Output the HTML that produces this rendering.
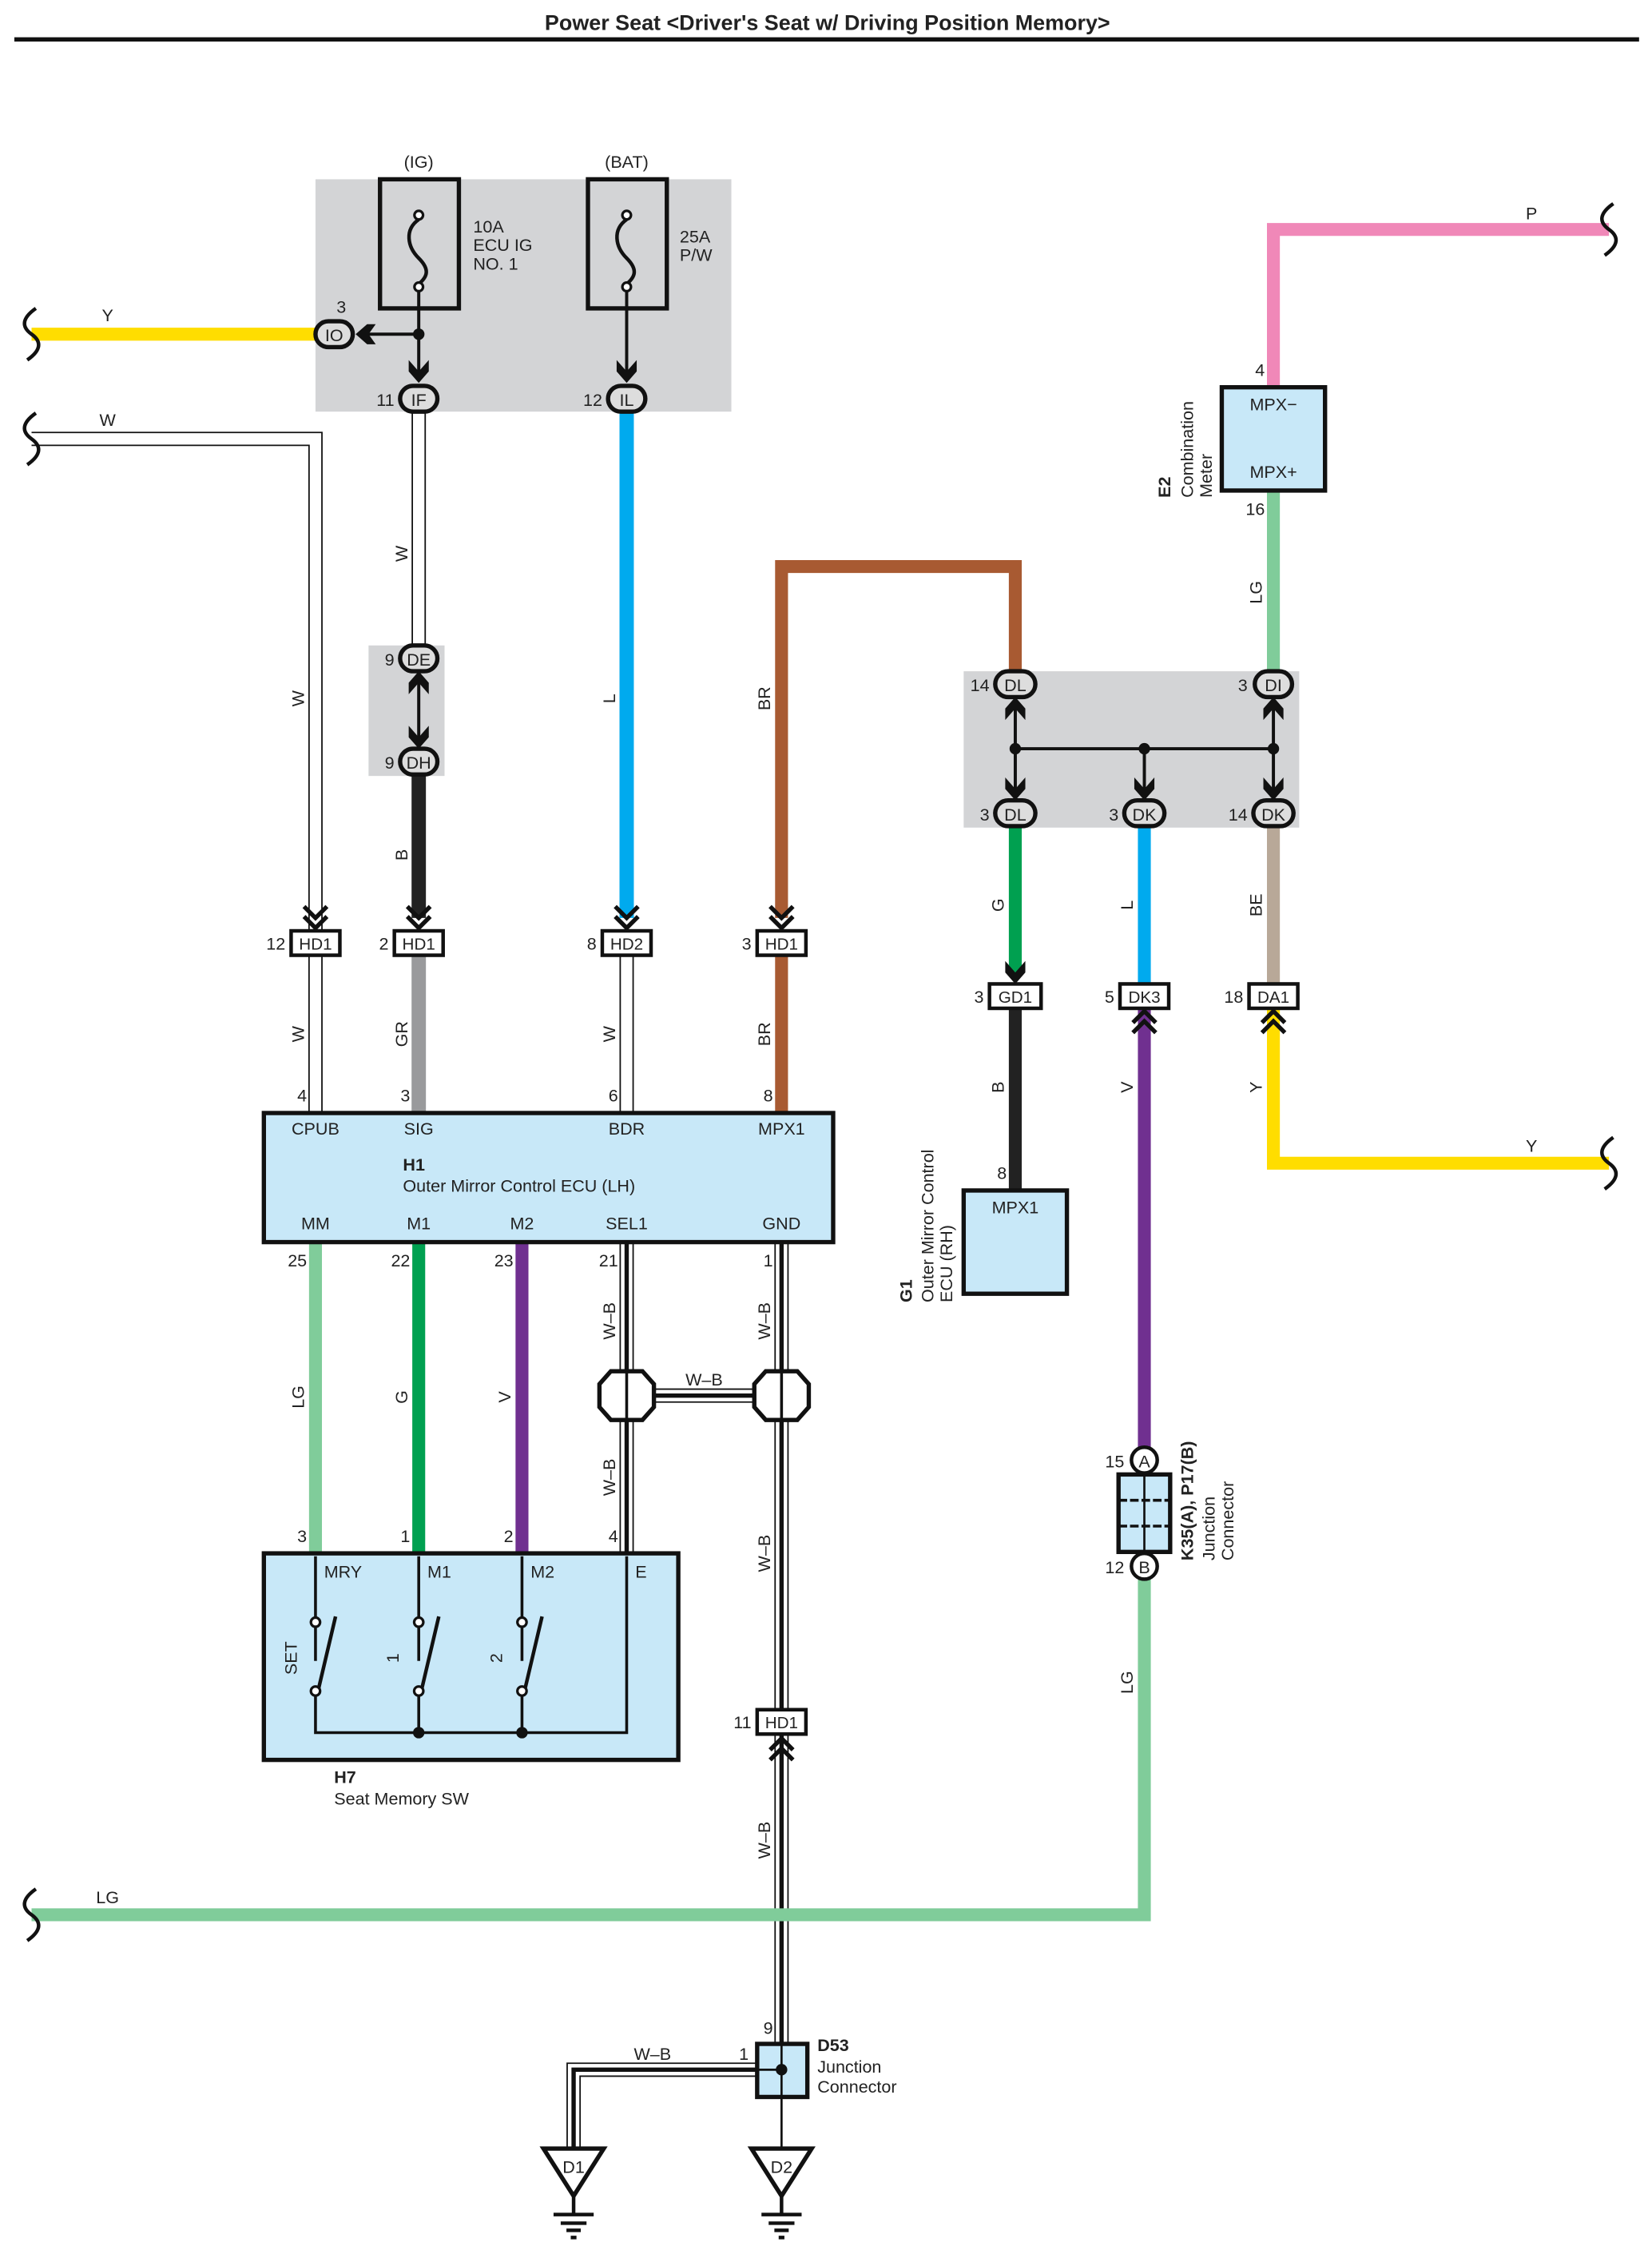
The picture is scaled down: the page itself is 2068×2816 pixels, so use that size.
<!DOCTYPE html>
<html><head><meta charset="utf-8"><style>
html,body{margin:0;padding:0;background:#fff;}
svg{display:block;}
text{font-family:"Liberation Sans",sans-serif;fill:#222;}
</style></head><body>
<svg width="2068" height="2816" viewBox="0 0 1152 1568.7" xmlns="http://www.w3.org/2000/svg">
<defs>
<g id="chd"><path d="M-8,-16 L0,-8 L8,-16 M-8,-9 L0,-1 L8,-9" stroke="#111" stroke-width="3" fill="none"/></g>
<g id="chu"><path d="M-8,16 L0,8 L8,16 M-8,9 L0,1 L8,9" stroke="#111" stroke-width="3" fill="none"/></g>
<g id="ard"><path d="M-7,-14 L0,-6 L7,-14 L7,-6 L0,2 L-7,-6 Z" fill="#111"/></g>
<g id="aru"><path d="M-7,14 L0,6 L7,14 L7,6 L0,-2 L-7,6 Z" fill="#111"/></g>
</defs>
<!-- title -->
<text x="577" y="21" font-size="15" font-weight="bold" text-anchor="middle">Power Seat &lt;Driver's Seat w/ Driving Position Memory&gt;</text>
<line x1="10" y1="27.5" x2="1143" y2="27.5" stroke="#111" stroke-width="3"/>

<!-- gray boxes -->
<rect x="220" y="125" width="290" height="162" fill="#d3d4d6"/>
<rect x="257" y="450" width="53" height="91" fill="#d3d4d6"/>
<rect x="672" y="468" width="234" height="109" fill="#d3d4d6"/>

<!-- fuses -->
<text x="292" y="117" font-size="12" text-anchor="middle">(IG)</text>
<text x="437" y="117" font-size="12" text-anchor="middle">(BAT)</text>
<rect x="265" y="125" width="55" height="90" fill="none" stroke="#111" stroke-width="3"/>
<rect x="410" y="125" width="55" height="90" fill="none" stroke="#111" stroke-width="3"/>
<path d="M292,153 C282,160 284,172 292,180 C300,188 298,193 292,198" stroke="#111" stroke-width="2.5" fill="none"/>
<path d="M437,153 C427,160 429,172 437,180 C445,188 443,193 437,198" stroke="#111" stroke-width="2.5" fill="none"/>
<circle cx="292" cy="150" r="3" fill="#fff" stroke="#111" stroke-width="1.8"/>
<circle cx="292" cy="200" r="3" fill="#fff" stroke="#111" stroke-width="1.8"/>
<circle cx="437" cy="150" r="3" fill="#fff" stroke="#111" stroke-width="1.8"/>
<circle cx="437" cy="200" r="3" fill="#fff" stroke="#111" stroke-width="1.8"/>
<text x="330" y="162" font-size="12">10A</text>
<text x="330" y="175" font-size="12">ECU IG</text>
<text x="330" y="188" font-size="12">NO. 1</text>
<text x="474" y="169" font-size="12">25A</text>
<text x="474" y="182" font-size="12">P/W</text>
<line x1="292" y1="203" x2="292" y2="265" stroke="#111" stroke-width="2.2"/>
<line x1="437" y1="203" x2="437" y2="265" stroke="#111" stroke-width="2.2"/>
<line x1="252" y1="233" x2="292" y2="233" stroke="#111" stroke-width="2.2"/>
<circle cx="292" cy="233" r="4" fill="#111"/>
<path d="M248,233 L256,226 L262,226 L257,233 L262,240 L256,240 Z" fill="#111"/>
<use href="#ard" x="292" y="265"/>
<use href="#ard" x="437" y="265"/>

<!-- wires -->
<!-- yellow left -->
<line x1="22" y1="233" x2="222" y2="233" stroke="#ffdd00" stroke-width="9"/>
<text x="75" y="224" font-size="12" text-anchor="middle">Y</text>
<!-- W left -->
<path d="M22,306 L220,306 L220,650" stroke="#111" stroke-width="10" fill="none"/>
<path d="M22,306 L220,306 L220,650" stroke="#fff" stroke-width="8" fill="none"/>
<text x="75" y="297" font-size="12" text-anchor="middle">W</text>
<!-- W IF-DE -->
<line x1="292" y1="287" x2="292" y2="452" stroke="#111" stroke-width="10"/>
<line x1="292" y1="287" x2="292" y2="452" stroke="#fff" stroke-width="8"/>
<!-- B DH-HD1 -->
<line x1="292" y1="540" x2="292" y2="640" stroke="#222" stroke-width="10"/>
<!-- L -->
<line x1="437" y1="287" x2="437" y2="640" stroke="#00aaee" stroke-width="10"/>
<!-- BR -->
<path d="M545,640 L545,395 L708,395 L708,468" stroke="#a85a32" stroke-width="9" fill="none"/>
<!-- lower HD -> H1 -->
<line x1="220" y1="666" x2="220" y2="776" stroke="#111" stroke-width="10"/>
<line x1="220" y1="666" x2="220" y2="776" stroke="#fff" stroke-width="8"/>
<line x1="292" y1="666" x2="292" y2="776" stroke="#999a9c" stroke-width="10"/>
<line x1="437" y1="666" x2="437" y2="776" stroke="#111" stroke-width="10"/>
<line x1="437" y1="666" x2="437" y2="776" stroke="#fff" stroke-width="8"/>
<line x1="545" y1="666" x2="545" y2="776" stroke="#a85a32" stroke-width="9"/>
<!-- H1 -> H7 -->
<line x1="220" y1="866" x2="220" y2="1083" stroke="#80cc9a" stroke-width="9"/>
<line x1="292" y1="866" x2="292" y2="1083" stroke="#00a050" stroke-width="9"/>
<line x1="364" y1="866" x2="364" y2="1083" stroke="#703090" stroke-width="9"/>
<!-- W-B wires -->
<g fill="none">
<path d="M437,866 L437,1083" stroke="#111" stroke-width="10"/>
<path d="M437,866 L437,1083" stroke="#fff" stroke-width="8"/>
<path d="M437,866 L437,1083" stroke="#111" stroke-width="3"/>
<path d="M545,866 L545,1443" stroke="#111" stroke-width="10"/>
<path d="M545,866 L545,1443" stroke="#fff" stroke-width="8"/>
<path d="M545,866 L545,1443" stroke="#111" stroke-width="3"/>
<path d="M437,973 L545,973" stroke="#111" stroke-width="10"/>
<path d="M437,973 L545,973" stroke="#fff" stroke-width="8"/>
<path d="M437,973 L545,973" stroke="#111" stroke-width="3"/>
<path d="M528,1443 L400,1443 L400,1497" stroke="#111" stroke-width="10"/>
<path d="M528,1443 L400,1443 L400,1497" stroke="#fff" stroke-width="8"/>
<path d="M528,1443 L400,1443 L400,1497" stroke="#111" stroke-width="3"/>
</g>
<!-- LG bottom -->
<path d="M22,1335 L798,1335 L798,1100" stroke="#80cc9a" stroke-width="9" fill="none"/>
<text x="75" y="1327" font-size="12" text-anchor="middle">LG</text>
<!-- V purple -->
<line x1="798" y1="702" x2="798" y2="1010" stroke="#703090" stroke-width="9"/>
<!-- right side -->
<path d="M1122,160 L888,160 L888,270" stroke="#f088b8" stroke-width="9" fill="none"/>
<text x="1068" y="153" font-size="12" text-anchor="middle">P</text>
<line x1="888" y1="342" x2="888" y2="468" stroke="#80cc9a" stroke-width="9"/>
<line x1="708" y1="577" x2="708" y2="680" stroke="#00a050" stroke-width="9"/>
<line x1="708" y1="702" x2="708" y2="830" stroke="#222" stroke-width="9"/>
<line x1="798" y1="577" x2="798" y2="686" stroke="#00aaee" stroke-width="9"/>
<line x1="888" y1="577" x2="888" y2="686" stroke="#b8a898" stroke-width="9"/>
<path d="M888,702 L888,811 L1122,811" stroke="#ffdd00" stroke-width="9" fill="none"/>
<text x="1068" y="803" font-size="12" text-anchor="middle">Y</text>

<!-- breaks -->
<g stroke="#111" stroke-width="2.5" fill="none">
<path d="M25,215 C15,222 15,228 22,233 C29,238 29,244 19,251"/>
<path d="M25,288 C15,295 15,301 22,306 C29,311 29,317 19,324"/>
<path d="M25,1317 C15,1324 15,1330 22,1335 C29,1340 29,1346 19,1353"/>
<path d="M1125,142 C1115,149 1115,155 1122,160 C1129,165 1129,171 1119,178"/>
<path d="M1125,793 C1115,800 1115,806 1122,811 C1129,816 1129,822 1119,829"/>
</g>

<!-- ovals -->
<g stroke="#111" stroke-width="3" fill="#ddd">
<rect x="220" y="224" width="26" height="18" rx="9"/>
<rect x="279" y="269" width="26" height="18" rx="9"/>
<rect x="424" y="269" width="26" height="18" rx="9"/>
<rect x="279" y="450" width="26" height="18" rx="9"/>
<rect x="279" y="522" width="26" height="18" rx="9"/>
<rect x="694" y="468" width="28" height="18" rx="9"/>
<rect x="875" y="468" width="26" height="18" rx="9"/>
<rect x="694" y="558" width="28" height="18" rx="9"/>
<rect x="784" y="558" width="28" height="18" rx="9"/>
<rect x="874" y="558" width="28" height="18" rx="9"/>
</g>
<g font-size="12" text-anchor="middle">
<text x="233" y="238">IO</text><text x="292" y="283">IF</text><text x="437" y="283">IL</text>
<text x="292" y="464">DE</text><text x="292" y="536">DH</text>
<text x="708" y="482">DL</text><text x="888" y="482">DI</text>
<text x="708" y="572">DL</text><text x="798" y="572">DK</text><text x="888" y="572">DK</text>
</g>
<g font-size="12" text-anchor="end">
<text x="238" y="218" text-anchor="middle">3</text>
<text x="275" y="283">11</text><text x="420" y="283">12</text>
<text x="275" y="464">9</text><text x="275" y="536">9</text>
<text x="690" y="482">14</text><text x="870" y="482">3</text>
<text x="690" y="572">3</text><text x="780" y="572">3</text><text x="870" y="572">14</text>
</g>
<!-- DE/DH arrows -->
<line x1="292" y1="468" x2="292" y2="522" stroke="#111" stroke-width="2.2"/>
<use href="#aru" x="292" y="470"/><use href="#ard" x="292" y="520"/>
<!-- right junction -->
<line x1="708" y1="486" x2="708" y2="558" stroke="#111" stroke-width="2.2"/>
<line x1="888" y1="486" x2="888" y2="558" stroke="#111" stroke-width="2.2"/>
<line x1="708" y1="522" x2="888" y2="522" stroke="#111" stroke-width="2.2"/>
<line x1="798" y1="522" x2="798" y2="558" stroke="#111" stroke-width="2.2"/>
<circle cx="708" cy="522" r="4" fill="#111"/><circle cx="798" cy="522" r="4" fill="#111"/><circle cx="888" cy="522" r="4" fill="#111"/>
<use href="#aru" x="708" y="488"/><use href="#aru" x="888" y="488"/>
<use href="#ard" x="708" y="556"/><use href="#ard" x="798" y="556"/><use href="#ard" x="888" y="556"/>

<!-- rect connectors -->
<g stroke="#111" stroke-width="2.5" fill="#fff">
<rect x="203" y="649" width="34" height="17"/>
<rect x="275" y="649" width="34" height="17"/>
<rect x="420" y="649" width="34" height="17"/>
<rect x="528" y="649" width="34" height="17"/>
<rect x="690" y="686" width="36" height="17"/>
<rect x="781" y="686" width="34" height="17"/>
<rect x="871" y="686" width="34" height="17"/>
<rect x="528" y="1192" width="34" height="17"/>
</g>
<g font-size="11.5" text-anchor="middle">
<text x="220" y="662">HD1</text><text x="292" y="662">HD1</text><text x="437" y="662">HD2</text><text x="545" y="662">HD1</text>
<text x="708" y="699">GD1</text><text x="798" y="699">DK3</text><text x="888" y="699">DA1</text>
<text x="545" y="1205">HD1</text>
</g>
<g font-size="12" text-anchor="end">
<text x="199" y="662">12</text><text x="271" y="662">2</text><text x="416" y="662">8</text><text x="524" y="662">3</text>
<text x="686" y="699">3</text><text x="777" y="699">5</text><text x="867" y="699">18</text>
<text x="524" y="1205">11</text>
</g>
<use href="#chd" x="220" y="648"/><use href="#chd" x="292" y="648"/><use href="#chd" x="437" y="648"/><use href="#chd" x="545" y="648"/>
<use href="#chu" x="798" y="704"/><use href="#chu" x="888" y="704"/><use href="#chu" x="545" y="1211"/>
<use href="#ard" x="708" y="684"/>

<!-- wire labels rotated -->
<g font-size="12" text-anchor="middle">
<text transform="translate(212,487) rotate(-90)">W</text>
<text transform="translate(284,386) rotate(-90)">W</text>
<text transform="translate(284,596) rotate(-90)">B</text>
<text transform="translate(429,487) rotate(-90)">L</text>
<text transform="translate(537,487) rotate(-90)">BR</text>
<text transform="translate(212,721) rotate(-90)">W</text>
<text transform="translate(284,721) rotate(-90)">GR</text>
<text transform="translate(429,721) rotate(-90)">W</text>
<text transform="translate(537,721) rotate(-90)">BR</text>
<text transform="translate(212,974) rotate(-90)">LG</text>
<text transform="translate(284,974) rotate(-90)">G</text>
<text transform="translate(356,974) rotate(-90)">V</text>
<text transform="translate(429,921) rotate(-90)">W–B</text>
<text transform="translate(537,921) rotate(-90)">W–B</text>
<text transform="translate(429,1030) rotate(-90)">W–B</text>
<text transform="translate(537,1083) rotate(-90)">W–B</text>
<text transform="translate(537,1283) rotate(-90)">W–B</text>
<text transform="translate(700,631) rotate(-90)">G</text>
<text transform="translate(790,631) rotate(-90)">L</text>
<text transform="translate(880,631) rotate(-90)">BE</text>
<text transform="translate(880,413) rotate(-90)">LG</text>
<text transform="translate(700,758) rotate(-90)">B</text>
<text transform="translate(790,758) rotate(-90)">V</text>
<text transform="translate(880,758) rotate(-90)">Y</text>
<text transform="translate(790,1173) rotate(-90)">LG</text>
<text x="491" y="966">W–B</text>
<text x="455" y="1436">W–B</text>
</g>

<!-- H1 -->
<rect x="184" y="776" width="397" height="90" fill="#c8e8f8" stroke="#111" stroke-width="3"/>
<g font-size="12" text-anchor="middle">
<text x="220" y="791">CPUB</text><text x="292" y="791">SIG</text><text x="437" y="791">BDR</text><text x="545" y="791">MPX1</text>
<text x="220" y="857">MM</text><text x="292" y="857">M1</text><text x="364" y="857">M2</text><text x="437" y="857">SEL1</text><text x="545" y="857">GND</text>
</g>
<text x="281" y="816" font-size="12" font-weight="bold">H1</text>
<text x="281" y="831" font-size="12">Outer Mirror Control ECU (LH)</text>
<g font-size="12" text-anchor="end">
<text x="214" y="768">4</text><text x="286" y="768">3</text><text x="431" y="768">6</text><text x="539" y="768">8</text>
<text x="214" y="883">25</text><text x="286" y="883">22</text><text x="358" y="883">23</text><text x="431" y="883">21</text><text x="539" y="883">1</text>
<text x="214" y="1075">3</text><text x="286" y="1075">1</text><text x="358" y="1075">2</text><text x="431" y="1075">4</text>
</g>

<!-- octagons -->
<g fill="#fff" stroke="#111" stroke-width="3">
<path d="M426,956 L448,956 L456,965 L456,981 L448,990 L426,990 L418,981 L418,965 Z"/>
<path d="M534,956 L556,956 L564,965 L564,981 L556,990 L534,990 L526,981 L526,965 Z"/>
</g>
<line x1="437" y1="956" x2="437" y2="990" stroke="#111" stroke-width="2"/>
<line x1="545" y1="956" x2="545" y2="990" stroke="#111" stroke-width="2"/>

<!-- H7 -->
<rect x="184" y="1083" width="289" height="144" fill="#c8e8f8" stroke="#111" stroke-width="3"/>
<g stroke="#111" stroke-width="2" fill="none">
<path d="M220,1085 L220,1158"/><path d="M292,1085 L292,1158"/><path d="M364,1085 L364,1158"/>
<path d="M437,1085 L437,1208 L220,1208 L220,1180"/>
<path d="M292,1180 L292,1208"/><path d="M364,1180 L364,1208"/>
</g>
<g stroke="#111" stroke-width="2.5">
<line x1="222" y1="1178" x2="234" y2="1127"/><line x1="294" y1="1178" x2="306" y2="1127"/><line x1="366" y1="1178" x2="378" y2="1127"/>
</g>
<g fill="#fff" stroke="#111" stroke-width="1.8">
<circle cx="220" cy="1131" r="3.2"/><circle cx="292" cy="1131" r="3.2"/><circle cx="364" cy="1131" r="3.2"/>
<circle cx="220" cy="1179" r="3.2"/><circle cx="292" cy="1179" r="3.2"/><circle cx="364" cy="1179" r="3.2"/>
</g>
<circle cx="292" cy="1208" r="4" fill="#111"/><circle cx="364" cy="1208" r="4" fill="#111"/>
<g font-size="12">
<text x="226" y="1100">MRY</text><text x="298" y="1100">M1</text><text x="370" y="1100">M2</text><text x="443" y="1100">E</text>
<text transform="translate(207,1156) rotate(-90)" text-anchor="middle">SET</text>
<text transform="translate(278,1156) rotate(-90)" text-anchor="middle">1</text>
<text transform="translate(350,1156) rotate(-90)" text-anchor="middle">2</text>
<text x="233" y="1243" font-weight="bold">H7</text>
<text x="233" y="1258">Seat Memory SW</text>
</g>

<!-- E2 -->
<rect x="852" y="270" width="72" height="72" fill="#c8e8f8" stroke="#111" stroke-width="3"/>
<text x="888" y="286" font-size="12" text-anchor="middle">MPX−</text>
<text x="888" y="333" font-size="12" text-anchor="middle">MPX+</text>
<text x="882" y="262" font-size="12" text-anchor="end">4</text>
<text x="882" y="359" font-size="12" text-anchor="end">16</text>
<g font-size="12">
<text transform="translate(816,347) rotate(-90)" font-weight="bold">E2</text>
<text transform="translate(832,347) rotate(-90)">Combination</text>
<text transform="translate(845,347) rotate(-90)">Meter</text>
</g>

<!-- G1 -->
<rect x="672" y="830" width="72" height="72" fill="#c8e8f8" stroke="#111" stroke-width="3"/>
<text x="708" y="846" font-size="12" text-anchor="middle">MPX1</text>
<text x="702" y="822" font-size="12" text-anchor="end">8</text>
<g font-size="12">
<text transform="translate(636,908) rotate(-90)" font-weight="bold">G1</text>
<text transform="translate(651,908) rotate(-90)">Outer Mirror Control</text>
<text transform="translate(664,908) rotate(-90)">ECU (RH)</text>
</g>

<!-- K35 junction -->
<rect x="780" y="1028" width="36" height="54" fill="#c8e8f8" stroke="#111" stroke-width="3"/>
<line x1="798" y1="1028" x2="798" y2="1082" stroke="#111" stroke-width="1.5"/>
<line x1="780" y1="1046" x2="816" y2="1046" stroke="#111" stroke-width="2" stroke-dasharray="6,2"/>
<line x1="780" y1="1064" x2="816" y2="1064" stroke="#111" stroke-width="2" stroke-dasharray="6,2"/>
<circle cx="798" cy="1018" r="9" fill="#fff" stroke="#111" stroke-width="2.5"/>
<circle cx="798" cy="1092" r="9" fill="#fff" stroke="#111" stroke-width="2.5"/>
<text x="798" y="1023" font-size="12" text-anchor="middle">A</text>
<text x="798" y="1097" font-size="12" text-anchor="middle">B</text>
<text x="784" y="1023" font-size="12" text-anchor="end">15</text>
<text x="784" y="1097" font-size="12" text-anchor="end">12</text>
<g font-size="12">
<text transform="translate(832,1088) rotate(-90)" font-weight="bold">K35(A), P17(B)</text>
<text transform="translate(847,1088) rotate(-90)">Junction</text>
<text transform="translate(860,1088) rotate(-90)">Connector</text>
</g>

<!-- D53 -->
<rect x="528" y="1425" width="35" height="37" fill="#c8e8f8" stroke="#111" stroke-width="3"/>
<line x1="545" y1="1425" x2="545" y2="1497" stroke="#111" stroke-width="1.5"/>
<line x1="528" y1="1443" x2="545" y2="1443" stroke="#111" stroke-width="1.5"/>
<circle cx="545" cy="1443" r="4" fill="#111"/>
<text x="539" y="1418" font-size="12" text-anchor="end">9</text>
<text x="522" y="1436" font-size="12" text-anchor="end">1</text>
<text x="570" y="1430" font-size="12" font-weight="bold">D53</text>
<text x="570" y="1445" font-size="12">Junction</text>
<text x="570" y="1459" font-size="12">Connector</text>

<!-- grounds -->
<g stroke="#111" fill="#fff" stroke-width="3">
<path d="M379,1498 L421,1498 L400,1531 Z"/>
<path d="M524,1498 L566,1498 L545,1531 Z"/>
</g>
<text x="400" y="1515" font-size="12" text-anchor="middle">D1</text>
<text x="545" y="1515" font-size="12" text-anchor="middle">D2</text>
<g stroke="#111" stroke-width="2.5">
<line x1="400" y1="1531" x2="400" y2="1544"/><line x1="386" y1="1544" x2="414" y2="1544"/><line x1="391" y1="1550" x2="409" y2="1550"/><line x1="395" y1="1555" x2="405" y2="1555"/><line x1="398" y1="1560" x2="402" y2="1560"/>
<line x1="545" y1="1531" x2="545" y2="1544"/><line x1="531" y1="1544" x2="559" y2="1544"/><line x1="536" y1="1550" x2="554" y2="1550"/><line x1="540" y1="1555" x2="550" y2="1555"/><line x1="543" y1="1560" x2="547" y2="1560"/>
</g>
</svg>
</body></html>
